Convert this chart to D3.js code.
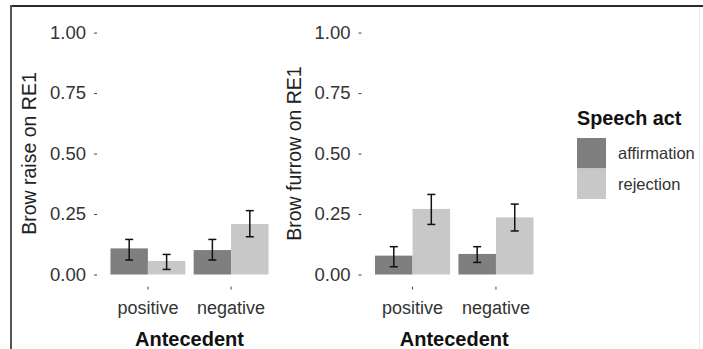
<!DOCTYPE html>
<html>
<head>
<meta charset="utf-8">
<script src="https://cdn.jsdelivr.net/npm/d3@7/dist/d3.min.js"></script>
<style>
  html, body { margin: 0; padding: 0; background: #fff; }
  svg { display: block; font-family: "Liberation Sans", Arial, sans-serif; }
</style>
</head>
<body>
<svg id="chart" width="703" height="349"></svg>
<script>
// ---- data ----
const categories = ["positive", "negative"];
const speechActs = ["affirmation", "rejection"];
const yTicks = [0, 0.25, 0.5, 0.75, 1];

// Panel 1: Brow raise on RE1
const raiseMean  = [[0.108, 0.056], [0.101, 0.209]]; // [category][speechAct]
const raiseLower = [[0.060, 0.021], [0.060, 0.156]];
const raiseUpper = [[0.145, 0.083], [0.145, 0.264]];

// Panel 2: Brow furrow on RE1
const furrowMean  = [[0.078, 0.271], [0.085, 0.236]];
const furrowLower = [[0.032, 0.207], [0.050, 0.180]];
const furrowUpper = [[0.115, 0.331], [0.115, 0.291]];

const panelTitles = ["Brow raise on RE1", "Brow furrow on RE1"];
const xTitle = "Antecedent";
const legendTitle = "Speech act";
const fillColors = ["#7f7f7f", "#c8c8c8"];

// ---- drawing ----
const svg = d3.select("#chart");

// frame lines (screenshot border)
svg.append("line").attr("x1", 10).attr("x2", 703).attr("y1", 6).attr("y2", 6)
  .attr("stroke", "#2a2a2a").attr("stroke-width", 2);
svg.append("line").attr("x1", 11).attr("x2", 11).attr("y1", 5).attr("y2", 349)
  .attr("stroke", "#555").attr("stroke-width", 2);
svg.append("line").attr("x1", 699.5).attr("x2", 699.5).attr("y1", 7).attr("y2", 349)
  .attr("stroke", "#efefef").attr("stroke-width", 1);

const color = d3.scaleOrdinal().domain(speechActs).range(fillColors);

const y = d3.scaleLinear().domain([-0.05, 1.05]).range([286.6, 20.5]);

const panels = [
  { left: 98, right: 281, titleX: 30, mean: raiseMean, lo: raiseLower, hi: raiseUpper, title: panelTitles[0] },
  { left: 362.5, right: 546, titleX: 295, mean: furrowMean, lo: furrowLower, hi: furrowUpper, title: panelTitles[1] }
];

panels.forEach(p => {
  const g = svg.append("g");
  const x = d3.scaleBand().domain(categories).range([p.left, p.right])
    .paddingInner(0.1).paddingOuter(0.15);
  const xs = d3.scaleBand().domain(speechActs).range([0, x.bandwidth()]).padding(0);

  const rows = [];
  categories.forEach((c, i) => speechActs.forEach((s, j) => {
    rows.push({ c, s, v: p.mean[i][j], lo: p.lo[i][j], hi: p.hi[i][j] });
  }));

  g.selectAll("rect.bar").data(rows).enter().append("rect")
    .attr("x", d => x(d.c) + xs(d.s))
    .attr("width", xs.bandwidth())
    .attr("y", d => y(d.v))
    .attr("height", d => y(0) - y(d.v))
    .attr("fill", d => color(d.s));

  const cap = 4;
  const eb = g.selectAll("g.eb").data(rows).enter().append("g")
    .attr("stroke", "#111").attr("stroke-width", 1.5);
  eb.append("line")
    .attr("x1", d => x(d.c) + xs(d.s) + xs.bandwidth() / 2)
    .attr("x2", d => x(d.c) + xs(d.s) + xs.bandwidth() / 2)
    .attr("y1", d => y(d.lo)).attr("y2", d => y(d.hi));
  eb.append("line")
    .attr("x1", d => x(d.c) + xs(d.s) + xs.bandwidth() / 2 - cap)
    .attr("x2", d => x(d.c) + xs(d.s) + xs.bandwidth() / 2 + cap)
    .attr("y1", d => y(d.hi)).attr("y2", d => y(d.hi));
  eb.append("line")
    .attr("x1", d => x(d.c) + xs(d.s) + xs.bandwidth() / 2 - cap)
    .attr("x2", d => x(d.c) + xs(d.s) + xs.bandwidth() / 2 + cap)
    .attr("y1", d => y(d.lo)).attr("y2", d => y(d.lo));

  // y axis
  const ya = g.append("g").attr("transform", `translate(${p.left - 1},0)`)
    .call(d3.axisLeft(y).tickValues(yTicks).tickFormat(d3.format(".2f")).tickSize(3).tickPadding(8));
  ya.select(".domain").remove();
  ya.selectAll(".tick line").attr("stroke", "#444");
  ya.selectAll(".tick text").attr("fill", "#333").style("font-size", "18.5px")
    .style("font-family", "'Liberation Sans', Arial, sans-serif");

  // x axis
  const xa = g.append("g").attr("transform", `translate(0,${y(-0.05)})`)
    .call(d3.axisBottom(x).tickSize(3).tickPadding(12));
  xa.select(".domain").remove();
  xa.selectAll(".tick line").attr("stroke", "#444");
  xa.selectAll(".tick text").attr("fill", "#333").style("font-size", "18px")
    .style("font-family", "'Liberation Sans', Arial, sans-serif");

  // titles
  g.append("text")
    .attr("transform", `translate(${p.titleX + 6},${(y(1.05) + y(-0.05)) / 2}) rotate(-90)`)
    .attr("text-anchor", "middle")
    .attr("fill", "#222").style("font-size", "19.5px")
    .text(p.title);
  g.append("text")
    .attr("x", (p.left + p.right) / 2).attr("y", 346)
    .attr("text-anchor", "middle").attr("font-weight", "bold")
    .attr("fill", "#111").style("font-size", "20px")
    .text(xTitle);
});

// legend
const lg = svg.append("g");
lg.append("text").attr("x", 577).attr("y", 125).attr("font-weight", "bold")
  .attr("fill", "#111").style("font-size", "19.8px").text(legendTitle);
speechActs.forEach((s, i) => {
  lg.append("rect").attr("x", 577).attr("y", 138 + i * 30.5).attr("width", 29).attr("height", 30.5)
    .attr("fill", color(s));
  lg.append("text").attr("x", 618).attr("y", 138 + i * 30.5 + 15.25).attr("dy", "0.35em")
    .attr("fill", "#333").style("font-size", "16.5px").text(s);
});
</script>
</body>
</html>
